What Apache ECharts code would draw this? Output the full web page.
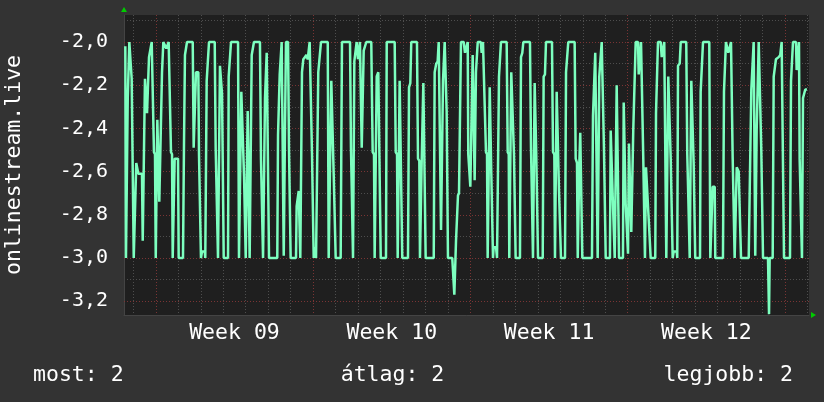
<!DOCTYPE html>
<html><head><meta charset="utf-8">
<script src="https://cdn.jsdelivr.net/npm/echarts@6/dist/echarts.min.js"></script>
<style>html,body{margin:0;padding:0;background:#333333;}#c{width:824px;height:402px;}</style>
</head><body><div id="c"></div>
<script>
// time in hours from the left edge of the plot (Sat ~14:00 before week 09)
const hours = [
1.4,2.1,3.2,4.0,5.0,5.7,7.5,8.2,9.6,10.4,
12.1,13.1,14.6,15.3,19.2,20.0,21.7,22.4,23.8,24.6,
26.0,26.7,28.1,29.6,31.0,32.0,33.1,33.9,34.9,35.6,
37.1,37.7,39.8,40.6,42.0,44.1,45.2,46.7,47.7,49.1,
50.2,51.3,52.0,53.4,54.1,57.7,58.4,63.0,64.1,65.1,
67.3,73.4,74.4,76.1,76.9,79.4,80.1,81.2,82.2,83.3,
86.2,86.8,87.6,88.3,89.7,90.8,96.9,97.9,99.6,100.4,
101.8,102.5,103.9,104.7,105.7,106.5,111.1,111.8,113.2,114.3,
121.8,122.8,124.2,125.3,127.1,128.2,129.2,130.0,131.4,132.1,
133.5,134.2,135.6,136.4,137.5,138.8,145.2,146.3,147.7,148.5,
149.5,150.6,151.7,152.4,153.8,154.9,163.7,164.5,165.5,166.3,
167.4,168.4,169.8,170.6,171.2,172.0,173.0,175.2,176.2,177.3,
178.0,183.7,184.4,185.8,186.6,187.6,188.3,189.4,190.1,191.5,
193.3,194.7,196.2,197.3,198.3,199.7,200.8,201.9,202.6,203.7,
205.1,206.4,207.5,209.0,210.4,217.6,218.6,220.3,221.4,222.9,
224.0,225.3,226.1,231.4,232.8,241.4,242.4,243.8,244.6,246.0,
247.5,248.5,249.9,251.0,252.0,253.1,253.9,255.3,256.0,257.4,
258.8,264.1,265.6,267.0,267.7,269.1,269.9,271.6,273.1,274.2,
279.8,280.6,289.1,290.2,291.6,292.3,293.7,294.4,296.2,297.2,
303.3,304.4,305.8,306.8,312.9,314.0,315.4,316.1,317.2,317.9,
319.0,319.7,321.1,322.2,330.8,331.8,333.5,335.0,336.1,337.5,
338.6,339.9,340.7,341.8,342.5,343.6,344.6,346.0,350.6,352.8,
353.8,354.6,355.6,356.7,357.8,359.9,362.8,364.2,366.0,367.1,
367.7,369.2,369.9,371.7,372.4,373.8,374.5,375.2,375.9,376.7,
377.8,381.0,382.0,383.4,385.2,386.6,387.7,388.4,389.8,390.6,
391.6,392.3,393.3,394.1,394.8,397.3,398.4,399.8,400.5,401.6,
402.6,408.7,409.8,410.9,411.5,413.0,413.6,415.5,416.5,417.6,
418.3,422.9,424.0,425.4,426.5,433.6,434.7,436.1,436.8,437.9,
438.6,439.7,440.3,441.4,442.2,447.2,448.2,449.6,450.7,457.1,
458.2,459.6,460.3,461.4,462.1,463.8,464.6,466.0,466.7,471.0,
472.1,473.4,474.5,481.3,482.4,483.8,484.6,485.6,486.3,487.3,
488.8,489.5,499.8,500.9,502.3,503.3,504.8,505.9,507.0,507.6,
509.1,510.2,511.9,512.6,513.7,514.5,519.0,519.8,521.2,521.9,
523.3,524.1,525.5,526.2,527.6,528.7,532.9,533.7,535.1,535.8,
537.2,538.3,539.3,540.7,541.8,543.3,543.9,545.4,546.5,549.0,
549.7,551.1,552.2,553.5,554.6,555.7,556.4,557.5,559.6,560.4,
561.8,562.5,567.4,568.2,569.2,570.3,573.2,574.3,576.0,577.0,
578.1,579.2,580.2,581.3,582.8,583.9,585.3,586.0,587.1,590.3,
590.9,591.7,593.5,594.6,600.5,601.6,603.1,604.2,605.2,605.9,
607.7,608.4,610.1,615.2,615.9,617.3,618.4,625.1,626.2,628.0,
628.7,630.9,631.5,639.7,640.8,641.9,642.9,644.3,645.4,647.2,
648.3,649.0,650.1,651.5,652.2,653.6,654.4,655.8,656.5,658.2,
659.0,667.2,668.2,669.3,670.0,671.5,672.5,673.6,674.2,675.3,
675.7,677.1,677.9,679.6,680.6,681.7,682.5,687.8,688.9,689.6,
692.8,693.9,695.3,696.3,699.2,700.9,702.4,703.8,704.9,711.3,
712.4,713.4,714.5,717.7,718.4,719.8,720.9,721.6,723.0,724.1,
725.2,726.6,727.6,729.4
];
const values = [
-2.02,-3,-3,-2.26,-2.26,-2,-2,-2.17,-2.17,-3,
-3,-2.56,-2.56,-2.61,-2.61,-2.92,-2.92,-2.17,-2.17,-2.33,
-2.33,-2.07,-2.07,-2,-2,-2.51,-2.52,-3,-3,-2.36,
-2.36,-2.74,-2.74,-2.14,-2,-2,-2.03,-2.03,-2,-2,
-2.51,-2.52,-3,-3,-2.54,-2.54,-3,-3,-2.46,-2.06,
-2,-2,-2.49,-2.49,-2.14,-2.14,-2.52,-2.52,-3,-2.97,
-2.97,-3,-3,-2.18,-2.18,-2,-2,-2.49,-2.49,-3,
-3,-2.11,-2.11,-2.24,-2.24,-3,-3,-2.16,-2.16,-2,
-2,-3,-3,-2.23,-2.23,-2.62,-2.62,-3,-3,-2.32,
-2.32,-3,-3,-2.06,-2.06,-2,-2,-2.54,-2.54,-3,
-3,-2.26,-2.26,-2.05,-2.05,-3,-3,-2.43,-2.43,-2.15,
-2.15,-2,-2,-2.99,-2.99,-2.38,-2,-2,-2.49,-2.49,
-3,-3,-2.76,-2.76,-2.69,-2.69,-3,-3,-2.14,-2.08,
-2.07,-2.06,-2.08,-2.08,-2,-2,-2.52,-2.52,-3,-2.95,
-3,-3,-2.14,-2.14,-2,-2,-3,-3,-2.18,-2.18,
-2.62,-2.62,-3,-3,-2,-2,-2.49,-2.49,-3,-2.09,
-2.09,-2,-2.08,-2.08,-2,-2,-2.49,-2.49,-2.04,-2.04,
-2,-2,-2.51,-2.52,-3,-3,-2.16,-2.14,-2.14,-3,
-3,-2,-2,-2.51,-2.52,-3,-3,-2.18,-2.18,-3,
-3,-2.21,-2.19,-2,-2,-2.54,-2.55,-3,-3,-2.56,
-2.56,-2.19,-2.19,-3,-3,-2.14,-2.1,-2.09,-2,-2,
-2.87,-2.87,-2.18,-2.18,-2,-2,-2.32,-3,-3,-3.17,
-3.17,-2.92,-2.92,-2.71,-2.7,-2,-2,-2.05,-2.05,-2,
-2.52,-2.52,-2.67,-2.67,-2.06,-2.06,-2.64,-2.64,-2.14,-2.14,
-2,-2,-2.05,-2,-2,-2.51,-2.52,-3,-3,-2.21,
-2.21,-2.61,-2.61,-3,-2.95,-2.95,-3,-3,-2.16,-2.16,
-2,-2,-2.51,-2.52,-3,-3,-2.14,-2.14,-2.52,-2.52,
-3,-3,-2.07,-2.05,-2,-2,-2.49,-2.49,-3,-3,
-2.19,-2.19,-2.52,-2.52,-3,-3,-2.16,-2.15,-2,-2,
-2.51,-2.52,-3,-3,-2.23,-2.23,-2.69,-2.69,-3,-3,
-2.14,-2.14,-2,-2,-2.54,-2.56,-3,-3,-2.56,-2.42,
-2.42,-3,-3,-2.34,-2.34,-2.05,-2.05,-3,-3,-2.16,
-2.16,-2,-2,-2.49,-2.49,-3,-3,-2.41,-2.41,-2.71,
-2.71,-3,-3,-2.2,-2.2,-3,-3,-2.28,-2.28,-2.75,
-2.75,-2.98,-2.47,-2.47,-2.88,-2.88,-2.41,-2.41,-2,-2,
-2.15,-2.15,-2,-2,-2.54,-2.54,-3,-2.58,-2.58,-2.82,
-2.82,-3,-3,-2.33,-2.33,-2,-2,-2.07,-2.07,-2,
-2,-3,-3,-2.16,-2.16,-2.54,-2.54,-3,-2.97,-2.97,
-3,-2.11,-2.1,-2,-2,-2.52,-2.52,-3,-3,-2.18,
-2.18,-2.56,-3,-3,-2.23,-2.23,-2,-2,-3,-3,
-2.67,-2.67,-3,-3,-2.23,-2.23,-2,-2,-2.05,-2.05,
-2,-2,-2.54,-2.54,-3,-3,-2.58,-2.58,-2.6,-2.6,
-3,-3,-2.71,-2.71,-2.22,-2.22,-2,-2,-2.99,-2.99,
-2.41,-2.41,-2,-2,-2.49,-2.49,-3,-3,-3.26,-3,
-3,-2.16,-2.16,-2.08,-2.07,-2.06,-2,-2,-3,-3,
-2.18,-2.18,-2,-2,-2.13,-2.13,-2,-2.54,-2.54,-3,
-2.26,-2.26,-2.22,-2.22
];
const xRange = [0, 731.6];
const weekStarts = [34, 202, 370, 538, 706];
const weekLabels = ['Week 09', 'Week 10', 'Week 11', 'Week 12'];
const yRange = [-3.264, -1.875];
const yMajorTicks = [-3.2, -3.0, -2.8, -2.6, -2.4, -2.2, -2.0];
const yMinorTicks = [-3.2, -3.1, -3.0, -2.9, -2.8, -2.7, -2.6, -2.5, -2.4, -2.3, -2.2, -2.1, -2.0, -1.9];
const seriesName = 'onlinestream.live';
const legendNames = ['most', 'átlag', 'legjobb'];
const legendValues = ['2', '2', '2'];

const dayLines = [];
for (let h = weekStarts[0] - 24; h <= xRange[1]; h += 24) dayLines.push(h);
const weekMids = weekLabels.map((_, i) => weekStarts[i] + 84);

const FONT = 'DejaVu Sans Mono';
const TXT = '#ffffff';
const minorLine = { show: true, lineStyle: { color: '#4e4e4e', width: 1, type: [1, 2] } };
const majorLine = { show: true, lineStyle: { color: '#7a3434', width: 1, type: [1, 2] } };
const bigFont = '21.5px "' + FONT + '"';

const chart = echarts.init(document.getElementById('c'), null, { renderer: 'canvas' });
chart.setOption({
  backgroundColor: '#333333',
  animation: false,
  grid: { left: 124, right: 15, top: 15, bottom: 87, show: true, backgroundColor: '#1f1f1f', borderWidth: 0,
          containLabel: false, outerBoundsMode: 'none' },
  xAxis: [
    { type: 'value', min: xRange[0], max: xRange[1], position: 'bottom', z: 1,
      axisLine: { show: true, onZero: false, lineStyle: { color: '#444444' } },
      axisTick: { show: false, customValues: dayLines },
      axisLabel: { show: false }, splitLine: minorLine },
    { type: 'value', min: xRange[0], max: xRange[1], position: 'bottom', z: 2,
      axisLine: { show: false },
      axisTick: { show: false, customValues: weekStarts },
      axisLabel: { show: false }, splitLine: majorLine },
    { type: 'value', min: xRange[0], max: xRange[1], position: 'bottom', z: 2,
      axisLine: { show: false }, axisTick: { show: false }, splitLine: { show: false },
      axisLabel: { show: true, customValues: weekMids, color: TXT, fontFamily: FONT, fontSize: 21.5, margin: 7,
        formatter: v => { const i = weekMids.findIndex(m => Math.abs(m - v) < 0.01); return i >= 0 ? weekLabels[i] : ''; } } }
  ],
  yAxis: [
    { type: 'value', min: yRange[0], max: yRange[1], z: 1,
      name: seriesName, nameLocation: 'middle', nameRotate: 90, nameGap: 99,
      nameTextStyle: { color: TXT, fontFamily: FONT, fontSize: 21.5 },
      axisLine: { show: true, onZero: false, lineStyle: { color: '#444444' } },
      axisTick: { show: false, customValues: yMinorTicks },
      axisLabel: { show: true, customValues: yMajorTicks, color: TXT, fontFamily: FONT, fontSize: 20, margin: 16,
        formatter: v => v.toFixed(1).replace('.', ',') },
      splitLine: minorLine },
    { type: 'value', min: yRange[0], max: yRange[1], z: 2,
      axisLine: { show: false },
      axisTick: { show: false, customValues: yMajorTicks },
      axisLabel: { show: false }, splitLine: majorLine }
  ],
  series: [{
    name: seriesName, type: 'line', xAxisIndex: 0, yAxisIndex: 0, z: 5,
    showSymbol: false, symbol: 'none', clip: true,
    lineStyle: { color: '#7dffbf', width: 2.5 },
    data: hours.map((h, i) => [h, values[i]])
  }],
  graphic: [
    { type: 'polygon', shape: { points: [[121, 12], [127, 12], [124, 7]] }, style: { fill: '#00cc00' }, z: 10 },
    { type: 'polygon', shape: { points: [[811, 312], [811, 318], [816, 315]] }, style: { fill: '#00cc00' }, z: 10 },
    { type: 'text', x: 33, y: 375, style: { text: legendNames[0] + ': ' + legendValues[0], fill: TXT, font: bigFont, align: 'left', verticalAlign: 'middle' } },
    { type: 'text', x: 392.5, y: 375, style: { text: legendNames[1] + ': ' + legendValues[1], fill: TXT, font: bigFont, align: 'center', verticalAlign: 'middle' } },
    { type: 'text', x: 793, y: 375, style: { text: legendNames[2] + ': ' + legendValues[2], fill: TXT, font: bigFont, align: 'right', verticalAlign: 'middle' } }
  ]
});
</script>
</body></html>
